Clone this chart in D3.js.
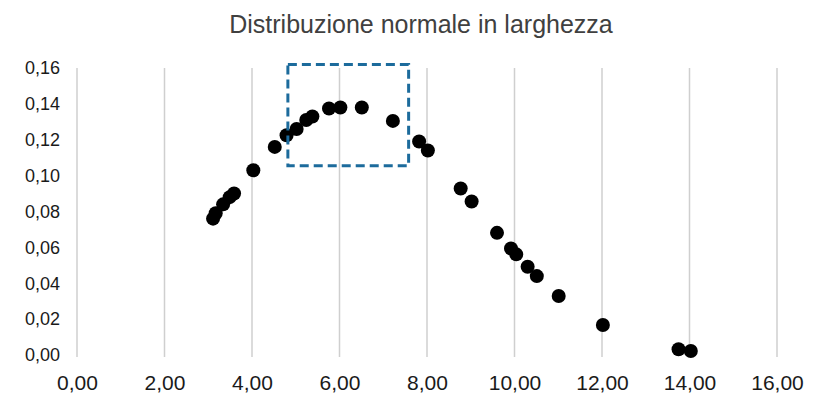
<!DOCTYPE html>
<html>
<head>
<meta charset="utf-8">
<script src="https://cdn.jsdelivr.net/npm/d3@7"></script>
<style>
  html, body { margin: 0; padding: 0; background: #fff; }
  svg { display: block; }
</style>
</head>
<body>
<svg id="chart" width="821" height="399"></svg>
<script>
// Width measurements (x) and their normal density (y)
const widths = [3.11, 3.17, 3.34, 3.49, 3.59, 4.03, 4.52, 4.79, 5.02, 5.24, 5.38,
  5.76, 6.02, 6.51, 7.22, 7.82, 8.02, 8.77, 9.02, 9.60, 9.92, 10.04, 10.30,
  10.51, 11.01, 12.02, 13.75, 14.03];
const density = [0.076, 0.079, 0.084, 0.088, 0.090, 0.103, 0.116, 0.1225, 0.126,
  0.131, 0.133, 0.1374, 0.138, 0.138, 0.1305, 0.119, 0.114, 0.0928, 0.0856,
  0.0681, 0.0594, 0.0561, 0.0492, 0.044, 0.0329, 0.0167, 0.0032, 0.0022];
const xTicks = [0, 2, 4, 6, 8, 10, 12, 14, 16];
const yTicks = [0, 0.02, 0.04, 0.06, 0.08, 0.10, 0.12, 0.14, 0.16];
// Highlighted region around the peak (data units)
const highlightX = [4.82, 7.58];
const highlightY = [0.1055, 0.1620];

const title = "Distribuzione normale in larghezza";

const svg = d3.select("#chart");
const fmt = d => d3.format(".2f")(d).replace(".", ",");
const font = "Liberation Sans, Arial, sans-serif";

const x = d3.scaleLinear().domain([0, 16]).range([77, 777]);
const y = d3.scaleLinear().domain([0, 0.16]).range([355, 68]);

// Title
svg.append("text")
  .attr("x", 421).attr("y", 33)
  .attr("text-anchor", "middle")
  .attr("font-family", font)
  .attr("font-size", 25)
  .attr("fill", "#404040")
  .text(title);

// Vertical gridlines
svg.append("g")
  .selectAll("line")
  .data(xTicks)
  .join("line")
  .attr("x1", d => x(d)).attr("x2", d => x(d))
  .attr("y1", y(0.16)).attr("y2", y(0) + 2)
  .attr("stroke", "#cfcfcf")
  .attr("stroke-width", 1.5);

// X axis labels
const xAxis = d3.axisBottom(x).tickValues(xTicks).tickFormat(fmt).tickSize(0).tickPadding(0);
const gx = svg.append("g").attr("transform", `translate(0, ${y(0) + 20})`).call(xAxis);
gx.select(".domain").remove();
gx.selectAll("text")
  .attr("font-family", font)
  .attr("font-size", 21)
  .attr("fill", "#1a1a1a");

// Y axis labels
const yAxis = d3.axisLeft(y).tickValues(yTicks).tickFormat(fmt).tickSize(0).tickPadding(0);
const gy = svg.append("g").attr("transform", `translate(60, 0)`).call(yAxis);
gy.select(".domain").remove();
gy.selectAll("text")
  .attr("font-family", font)
  .attr("font-size", 18)
  .attr("fill", "#1a1a1a");

// Data points
const pts = widths.map((w, i) => ({ w, d: density[i] }));
svg.append("g")
  .selectAll("circle")
  .data(pts)
  .join("circle")
  .attr("cx", p => x(p.w))
  .attr("cy", p => y(p.d))
  .attr("r", 7)
  .attr("fill", "#000");

// Dashed box around the peak
svg.append("rect")
  .attr("x", x(highlightX[0]))
  .attr("y", y(highlightY[1]))
  .attr("width", x(highlightX[1]) - x(highlightX[0]))
  .attr("height", y(highlightY[0]) - y(highlightY[1]))
  .attr("fill", "none")
  .attr("stroke", "#1c6b9c")
  .attr("stroke-width", 3)
  .attr("stroke-dasharray", "9,5");
</script>
</body>
</html>
